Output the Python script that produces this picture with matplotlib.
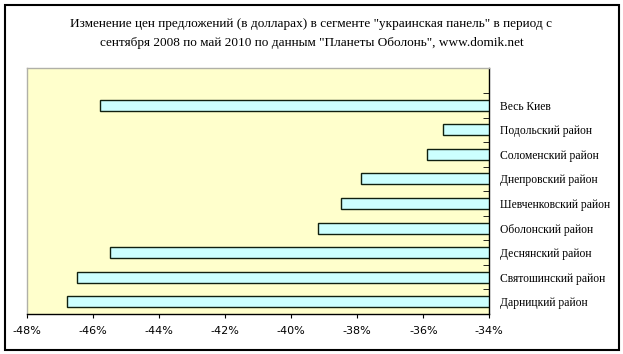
import matplotlib
matplotlib.use("Agg")
import matplotlib.pyplot as plt
from matplotlib.patches import Rectangle
from matplotlib.ticker import FixedLocator, FuncFormatter

title = ('Изменение цен предложений (в долларах) в сегменте "украинская панель" в период с\n'
         'сентября 2008 по май 2010 по данным "Планеты Оболонь", www.domik.net')
categories = ["Весь Киев", "Подольский район", "Соломенский район", "Днепровский район",
              "Шевченковский район", "Оболонский район", "Деснянский район",
              "Святошинский район", "Дарницкий район"]
values = [-45.8, -35.4, -35.9, -37.9, -38.5, -39.2, -45.5, -46.5, -46.8]
xticks = [-48, -46, -44, -42, -40, -38, -36, -34]
base = -34

fig = plt.figure(figsize=(6.23, 3.54), dpi=100)
ax = fig.add_axes([0.0438, 0.113, 0.7416, 0.6935])
ax.set_facecolor("#FFFFCC")

n = len(categories)
ypos = [n - 1 - i for i in range(n)]
ax.barh(ypos, [v - base for v in values], left=base, height=0.45,
        color="#CCFFFF", edgecolor="#102010", linewidth=1.0, zorder=3)

ax.set_xlim(xticks[0], xticks[-1])
ax.set_ylim(-0.5, n + 0.5)
ax.set_xticks(xticks)
ax.xaxis.set_major_formatter(FuncFormatter(lambda v, p: f"{v:.0f}%"))
ax.tick_params(axis="x", direction="out", length=3, labelsize=8, pad=6, color="black")
for lab in ax.get_xticklabels():
    lab.set_family("DejaVu Sans")

ax.yaxis.tick_right()
ax.set_yticks(ypos)
ax.set_yticklabels(categories, family="Liberation Serif", fontsize=8.4)
ax.tick_params(axis="y", which="major", length=0, pad=8)
ax.yaxis.set_minor_locator(FixedLocator([k - 0.5 for k in range(n + 2)]))
ax.tick_params(axis="y", which="minor", direction="in", length=4, color="black")

for s in ["top", "left"]:
    ax.spines[s].set_color("#B0B0A8")
    ax.spines[s].set_linewidth(1.0)
for s in ["bottom", "right"]:
    ax.spines[s].set_color("black")
    ax.spines[s].set_linewidth(1.0)

fig.text(0.5, 1 - 33.5 / 354, title, ha="center", va="center", family="Liberation Serif",
         fontsize=9.5, linespacing=1.85)

fig.patches.append(Rectangle((4.5 / 623, 1 - 350 / 354), 614.5 / 623, 345.5 / 354,
                             transform=fig.transFigure, fill=False, edgecolor="black",
                             linewidth=1.5))

fig.savefig("out.png", dpi=100)
